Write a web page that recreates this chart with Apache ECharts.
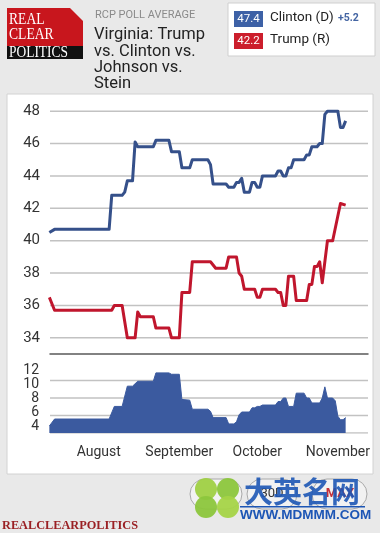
<!DOCTYPE html>
<html><head><meta charset="utf-8">
<script src="https://cdn.jsdelivr.net/npm/echarts@6/dist/echarts.min.js"></script>
<style>html,body{margin:0;padding:0;background:#e9e9e9}#c{width:380px;height:533px}</style>
</head><body><div id="c"></div><script>
// ---- data ----
const clintonDates = ['2016-07-13','2016-07-15','2016-08-05','2016-08-06','2016-08-10','2016-08-11','2016-08-12','2016-08-14','2016-08-15','2016-08-16','2016-08-22','2016-08-23','2016-08-28','2016-08-29','2016-09-01','2016-09-02','2016-09-05','2016-09-06','2016-09-12','2016-09-13','2016-09-14','2016-09-19','2016-09-20','2016-09-22','2016-09-23','2016-09-24','2016-09-25','2016-09-26','2016-09-28','2016-09-29','2016-09-30','2016-10-01','2016-10-02','2016-10-03','2016-10-08','2016-10-09','2016-10-10','2016-10-11','2016-10-12','2016-10-13','2016-10-14','2016-10-15','2016-10-19','2016-10-20','2016-10-21','2016-10-22','2016-10-24','2016-10-25','2016-10-26','2016-10-27','2016-10-28','2016-11-01','2016-11-02','2016-11-03','2016-11-04'];
const clintonValues = [40.5,40.7,40.7,42.8,42.8,43.0,43.7,43.7,46.1,45.8,45.8,46.2,46.2,45.5,45.5,44.5,44.5,45.0,45.0,44.7,43.5,43.5,43.3,43.3,43.6,43.6,43.85,43.0,43.0,43.6,43.6,43.3,43.3,44.0,44.0,44.3,44.3,44.0,44.0,44.5,44.5,45.0,45.0,45.3,45.3,45.8,45.8,46.0,46.0,47.8,48.0,48.0,47.0,47.0,47.4];

const trumpDates = ['2016-07-13','2016-07-15','2016-08-06','2016-08-07','2016-08-10','2016-08-12','2016-08-15','2016-08-16','2016-08-17','2016-08-22','2016-08-23','2016-08-28','2016-08-29','2016-09-01','2016-09-02','2016-09-05','2016-09-06','2016-09-13','2016-09-15','2016-09-19','2016-09-20','2016-09-23','2016-09-24','2016-09-25','2016-09-26','2016-09-30','2016-10-01','2016-10-02','2016-10-03','2016-10-08','2016-10-09','2016-10-10','2016-10-11','2016-10-12','2016-10-13','2016-10-15','2016-10-16','2016-10-20','2016-10-21','2016-10-22','2016-10-23','2016-10-24','2016-10-25','2016-10-26','2016-10-28','2016-10-30','2016-11-02','2016-11-04'];
const trumpValues = [36.5,35.7,35.7,36.0,36.0,34.0,34.0,35.6,35.3,35.3,34.6,34.6,34.0,34.0,36.8,36.8,38.7,38.7,38.3,38.3,39.0,39.0,38.0,37.8,37.0,37.0,36.5,36.5,37.0,37.0,36.8,36.8,36.0,36.0,37.8,37.8,36.3,36.3,37.3,37.3,38.4,38.4,38.7,37.4,40.0,40.0,42.3,42.2];

const spreadDates = ['2016-07-13','2016-07-15','2016-08-05','2016-08-07','2016-08-10','2016-08-12','2016-08-14','2016-08-16','2016-08-22','2016-08-23','2016-08-28','2016-08-29','2016-09-01','2016-09-02','2016-09-05','2016-09-06','2016-09-12','2016-09-13','2016-09-14','2016-09-19','2016-09-20','2016-09-22','2016-09-23','2016-09-24','2016-09-25','2016-09-28','2016-09-29','2016-09-30','2016-10-01','2016-10-02','2016-10-03','2016-10-08','2016-10-09','2016-10-10','2016-10-11','2016-10-12','2016-10-13','2016-10-15','2016-10-16','2016-10-19','2016-10-20','2016-10-21','2016-10-22','2016-10-25','2016-10-26','2016-10-27','2016-10-28','2016-10-30','2016-10-31','2016-11-01','2016-11-02','2016-11-03','2016-11-04'];
const spreadValues = [4.0,5.0,5.0,6.8,6.8,9.7,9.7,10.4,10.4,11.6,11.6,11.4,11.4,7.8,7.7,6.4,6.4,6.1,5.2,5.2,4.3,4.3,4.6,5.6,6.0,6.0,6.6,6.6,6.8,6.8,7.0,7.0,7.5,7.5,8.0,8.0,6.8,6.8,8.7,8.7,8.0,8.0,7.3,7.3,8.0,9.6,8.0,8.0,7.6,5.4,4.9,4.9,5.2];

const monthTickDates = ['2016-08-01','2016-09-01','2016-10-01','2016-11-01'];
const monthLabels = ['August','September','October','November'];
const pollTicks = [34,36,38,40,42,44,46,48];
const spreadLabelTicks = [4,6,8,10,12];
const spreadGridTicks = [3,5.5,8,10.5];
const legendItems = [
  {value:'47.4', name:'Clinton (D)', color:'#3d61a6'},
  {value:'42.2', name:'Trump (R)', color:'#cc1e2c'}
];
const leadText = '+5.2';
const titleSub = 'RCP POLL AVERAGE';
const titleLines = ['Virginia: Trump','vs. Clinton vs.','Johnson vs.','Stein'];

// ---- helpers ----
const ts = s => { const p = s.split('-').map(Number); return Date.UTC(p[0], p[1]-1, p[2]); };
const DAY = 86400000;
const zip = (d, v) => d.map((s, i) => [ts(s), v[i]]);
const monthTs = monthTickDates.map(ts);
const aug1 = monthTs[0];
const xMin = aug1 - 18.75 * DAY, xMax = aug1 + 103.6 * DAY;
const FONT = 'Roboto, "Liberation Sans", Arial, sans-serif';
const SERIF = '"Liberation Serif", "DejaVu Serif", serif';
const PAGE_GRAY = '#e9e9e9';

const chart = echarts.init(document.getElementById('c'), null, {renderer:'canvas'});

const graphics = [
  {type:'rect', z:0, shape:{x:0, y:0, width:380, height:94}, style:{fill:PAGE_GRAY}},
  {type:'rect', z:0, shape:{x:0, y:474, width:380, height:59}, style:{fill:PAGE_GRAY}},
  {type:'rect', z:0, shape:{x:0, y:94, width:7, height:380}, style:{fill:PAGE_GRAY}},
  {type:'rect', z:0, shape:{x:373, y:94, width:7, height:380}, style:{fill:PAGE_GRAY}},
  {type:'rect', z:0, shape:{x:7, y:94, width:366, height:380}, style:{fill:'none', stroke:'#d2d2d2', lineWidth:1}},
  {type:'polygon', z:5, shape:{points:[[7,8],[70,8],[83,21],[83,47],[7,47]]}, style:{fill:'#c8161d'}},
  {type:'rect', z:5, shape:{x:7, y:46, width:76, height:13}, style:{fill:'#111'}},
  {type:'text', z:6, x:9, y:20, scaleX:0.8, style:{text:'REAL', fill:'#fff', font:'17px '+SERIF, verticalAlign:'middle'}},
  {type:'text', z:6, x:9, y:35, scaleX:0.8, style:{text:'CLEAR', fill:'#fff', font:'17px '+SERIF, verticalAlign:'middle'}},
  {type:'text', z:6, x:9, y:52.5, scaleX:0.84, style:{text:'POLITICS', fill:'#fff', font:'16px '+SERIF, verticalAlign:'middle'}},
  {type:'text', z:5, x:95, y:15.5, style:{text:titleSub, fill:'#8a8a8a', font:'11px '+FONT, verticalAlign:'middle'}},
  ...titleLines.map((t, i) => ({type:'text', z:5, x:94, y:35 + i*16.4, style:{text:t, fill:'#222', font:'16.5px '+FONT, verticalAlign:'middle'}})),
  {type:'rect', z:5, shape:{x:228, y:3, width:147, height:53}, style:{fill:'#fff', stroke:'#cfcfcf', lineWidth:1}},
  ...legendItems.flatMap((it, i) => [
    {type:'rect', z:6, shape:{x:234, y:11 + i*22, width:29, height:16}, style:{fill:it.color}},
    {type:'text', z:7, x:248.5, y:19 + i*22, style:{text:it.value, fill:'#fff', font:'11.5px '+FONT, align:'center', verticalAlign:'middle'}},
    {type:'text', z:7, x:270, y:18 + i*22, style:{text:it.name, fill:'#222', font:'13.5px '+FONT, verticalAlign:'middle'}}
  ]),
  {type:'text', z:7, x:338, y:18, style:{text:leadText, fill:'#4465a3', font:'bold 10.5px '+FONT, verticalAlign:'middle'}},
  {type:'rect', z:1, shape:{x:190, y:479, width:52, height:30, r:15}, style:{fill:'#f2f2f2', stroke:'#a9a9a9', lineWidth:1}},
  {type:'rect', z:1, shape:{x:247, y:479, width:50, height:30, r:15}, style:{fill:'#f2f2f2', stroke:'#a9a9a9', lineWidth:1}},
  {type:'text', z:2, x:272, y:494, style:{text:'30D', fill:'#333', font:'13px '+FONT, align:'center', verticalAlign:'middle'}},
  {type:'rect', z:1, shape:{x:312, y:479, width:55, height:30, r:15}, style:{fill:'#f2f2f2', stroke:'#a9a9a9', lineWidth:1}},
  {type:'text', z:2, x:340, y:494, style:{text:'MAX', fill:'#c4303a', font:'bold 13px '+FONT, align:'center', verticalAlign:'middle'}},
  {type:'circle', z:3, shape:{cx:206, cy:489, r:11}, style:{fill:'#9fd043', opacity:0.95}},
  {type:'circle', z:3, shape:{cx:228, cy:489, r:11}, style:{fill:'#8cc63c', opacity:0.95}},
  {type:'circle', z:3, shape:{cx:206, cy:507, r:11}, style:{fill:'#8cc63c', opacity:0.95}},
  {type:'circle', z:3, shape:{cx:228, cy:507, r:11}, style:{fill:'#a5d447', opacity:0.95}},
  {type:'text', z:4, x:244, y:492, style:{text:'大英名网', fill:'#1d56b5', opacity:0.9, font:'bold 29px "Noto Sans CJK SC", sans-serif', verticalAlign:'middle'}},
  {type:'rect', z:4, shape:{x:240, y:506, width:125, height:1.5}, style:{fill:'#1d56b5'}},
  {type:'text', z:4, x:240, y:515, style:{text:'WWW.MDMMM.COM', fill:'#1d56b5', font:'bold 13.5px "Liberation Sans", Arial, sans-serif', verticalAlign:'middle'}},
  {type:'text', z:5, x:2, y:526, style:{text:'REALCLEARPOLITICS', fill:'#9a2024', font:'bold 12.3px '+SERIF, verticalAlign:'middle'}}
];

const monthFormatter = (v) => {
  let best = 0;
  monthTs.forEach((m, i) => { if (Math.abs(m - v) < Math.abs(monthTs[best] - v)) best = i; });
  return monthLabels[best];
};

const gridLineSeries = (xi, yi, vals) => vals.map(v => ({
  type:'line', xAxisIndex:xi, yAxisIndex:yi, data:[[xMin, v], [xMax, v]], z:2, silent:true,
  symbol:'none', lineStyle:{color:'#c2c2c2', width:1.5, opacity:1}, emphasis:{disabled:true}
}));

const option = {
  backgroundColor:'#ffffff',
  animation:false,
  textStyle:{fontFamily:FONT},
  graphic:{elements:graphics},
  grid:[
    {left:50, right:12, top:95, height:259},
    {left:50, right:12, top:354, height:79}
  ],
  xAxis:[
    {type:'value', gridIndex:0, min:xMin, max:xMax, z:5,
     axisLine:{show:true, onZero:false, lineStyle:{color:'#5a5a5a', width:1.5}}, axisTick:{show:false}, axisLabel:{show:false}, splitLine:{show:false}},
    {type:'value', gridIndex:1, min:xMin, max:xMax,
     axisLine:{show:false, onZero:false}, axisTick:{show:false}, splitLine:{show:false},
     axisLabel:{customValues:monthTs, margin:12, color:'#333', fontSize:14, fontFamily:FONT, formatter:monthFormatter}}
  ],
  yAxis:[
    {type:'value', gridIndex:0, min:33, max:49,
     axisLine:{show:false}, axisTick:{show:false},
     axisLabel:{customValues:pollTicks, color:'#333', fontSize:15, margin:10, fontFamily:FONT, showMinLabel:true, showMaxLabel:true, hideOverlap:false},
     splitLine:{show:false}},
    {type:'value', gridIndex:1, min:3, max:14.3,
     axisLine:{show:false}, axisTick:{show:false},
     axisLabel:{customValues:spreadLabelTicks, color:'#333', fontSize:14, lineHeight:12, margin:11, fontFamily:FONT, showMinLabel:true, showMaxLabel:true, hideOverlap:false},
     splitLine:{show:false}}
  ],
  series:[
    ...gridLineSeries(0, 0, pollTicks),
    ...gridLineSeries(1, 1, spreadGridTicks),
    {name:'Spread', type:'line', xAxisIndex:1, yAxisIndex:1, data:zip(spreadDates, spreadValues),
     symbol:'none', lineStyle:{width:1, color:'#3b5a9f'}, areaStyle:{color:'#3b5a9f', opacity:1, origin:'start'}, z:3},
    {name:'Trump (R)', type:'line', xAxisIndex:0, yAxisIndex:0, data:zip(trumpDates, trumpValues),
     symbol:'none', lineStyle:{width:3, color:'#c0162d', join:'round'}, z:4},
    {name:'Clinton (D)', type:'line', xAxisIndex:0, yAxisIndex:0, data:zip(clintonDates, clintonValues),
     symbol:'none', lineStyle:{width:3, color:'#35508a', join:'round'}, z:4}
  ]
};
chart.setOption(option);
</script></body></html>
